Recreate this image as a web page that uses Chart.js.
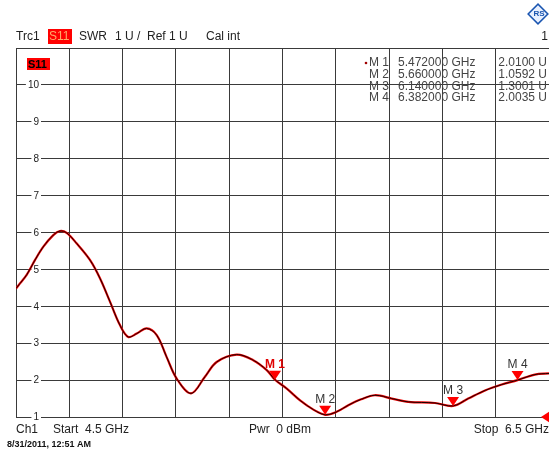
<!DOCTYPE html>
<html><head><meta charset="utf-8">
<script src="https://cdn.jsdelivr.net/npm/chart.js@4"></script>
<style>html,body{margin:0;padding:0;background:#fff;}canvas{display:block}</style>
</head><body>
<canvas id="c" width="549" height="455"></canvas>
<script>
// ---- data ----
const freqGHz = [4.500,4.515,4.540,4.571,4.602,4.640,4.665,4.690,4.728,4.778,4.815,4.853,4.890,4.921,4.953,4.990,5.028,5.065,5.103,5.157,5.209,5.253,5.328,5.390,5.441,5.472,5.516,5.566,5.616,5.660,5.703,5.747,5.795,5.847,5.910,5.972,6.072,6.140,6.197,6.260,6.323,6.382,6.447,6.500];
const swr = [4.48,4.62,4.85,5.25,5.61,5.93,6.04,5.99,5.70,5.25,4.76,4.12,3.49,3.17,3.26,3.40,3.22,2.63,2.04,1.64,2.09,2.49,2.69,2.54,2.27,2.01,1.77,1.45,1.20,1.06,1.14,1.32,1.48,1.59,1.50,1.41,1.38,1.30,1.50,1.72,1.88,2.00,2.15,2.18];
const markerNames = ['M 1','M 2','M 3','M 4'];
const markerFreq = [5.472, 5.660, 6.140, 6.382];
const markerSwr = [2.0100, 1.0592, 1.3001, 2.0035];
const xTicks = [4.5,4.7,4.9,5.1,5.3,5.5,5.7,5.9,6.1,6.3,6.5];
const yTicks = [1,2,3,4,5,6,7,8,9,10,11];
const yLabels = [1,2,3,4,5,6,7,8,9,10];
const refLevel = 1;

const FONT = '"Liberation Sans", Arial, sans-serif';
const TXT = '#222';

const points = freqGHz.map((f,i)=>({x:f,y:swr[i]}));

const overlay = {
  id:'overlay',
  beforeDatasetsDraw(chart){
    const ctx = chart.ctx, ys = chart.scales.y;
    ctx.save();
    ctx.font = '10px '+FONT; ctx.textAlign='right'; ctx.textBaseline='middle';
    yLabels.forEach(v=>{
      const py = ys.getPixelForValue(v);
      const s = String(v), w = ctx.measureText(s).width;
      ctx.fillStyle='#fff'; ctx.fillRect(39-w-2, py-3, w+4, 6);
      ctx.fillStyle=TXT; ctx.fillText(s, 39, py+0.5);
    });
    ctx.restore();
  },
  afterDatasetsDraw(chart){
    const ctx = chart.ctx, xs = chart.scales.x, ys = chart.scales.y;
    ctx.save();
    markerFreq.forEach((f,i)=>{
      const px = xs.getPixelForValue(f), py = ys.getPixelForValue(markerSwr[i]);
      ctx.fillStyle='#ff0000';
      ctx.beginPath(); ctx.moveTo(px,py); ctx.lineTo(px-6,py-9); ctx.lineTo(px+6,py-9); ctx.closePath(); ctx.fill();
      ctx.textAlign='center'; ctx.textBaseline='alphabetic';
      if(i===0){ ctx.font='bold 12px '+FONT; ctx.fillStyle='#e00000'; }
      else { ctx.font='12px '+FONT; ctx.fillStyle='#333'; }
      ctx.fillText(markerNames[i], px, py-12);
    });
    // reference level arrow at right edge
    const ry = ys.getPixelForValue(refLevel);
    ctx.fillStyle='#ff0000';
    ctx.beginPath(); ctx.moveTo(541,ry); ctx.lineTo(550,ry-6); ctx.lineTo(550,ry+6); ctx.closePath(); ctx.fill();
    ctx.restore();
  },
  afterDraw(chart){
    const ctx = chart.ctx;
    ctx.save();
    ctx.textBaseline='middle'; ctx.textAlign='left';
    // header
    ctx.font='12px '+FONT; ctx.fillStyle=TXT;
    ctx.fillText('Trc1', 16, 36.5);
    ctx.fillStyle='#ff0000'; ctx.fillRect(48,29,24,15);
    ctx.fillStyle='#ffa868'; ctx.fillText('S11', 49, 36.5);
    ctx.fillStyle=TXT;
    ctx.fillText('SWR', 79, 36.5);
    ctx.fillText('1 U /', 115, 36.5);
    ctx.fillText('Ref 1 U', 147, 36.5);
    ctx.fillText('Cal int', 206, 36.5);
    ctx.textAlign='right'; ctx.fillText('1', 548, 36.5);
    // logo
    ctx.save(); ctx.translate(538,14); ctx.rotate(Math.PI/4);
    ctx.fillStyle='#e8f0ff'; ctx.strokeStyle='#1a55b0'; ctx.lineWidth=1.5;
    ctx.fillRect(-7,-7,14,14); ctx.strokeRect(-7,-7,14,14); ctx.restore();
    ctx.fillStyle='#1a55b0'; ctx.font='bold 8px '+FONT; ctx.textAlign='center';
    ctx.fillText('RS', 539, 14);
    // inner S11 label
    ctx.fillStyle='#ff0000'; ctx.fillRect(27,58,23,12);
    ctx.fillStyle='#000'; ctx.font='bold 11px '+FONT; ctx.textAlign='left';
    ctx.fillText('S11', 28, 64.5);
    // marker table
    ctx.font='12px '+FONT;
    markerNames.forEach((n,i)=>{
      const y = 63 + i*11.7;
      ctx.fillStyle='#444'; ctx.textAlign='left';
      ctx.fillText(n, 369, y);
      ctx.fillText(markerFreq[i].toFixed(6)+' GHz', 398, y);
      ctx.textAlign='right';
      ctx.fillText(markerSwr[i].toFixed(4)+' U', 547, y);
      if(i===0){ ctx.fillStyle='#a00000'; ctx.beginPath(); ctx.arc(366, y, 1.3, 0, Math.PI*2); ctx.fill(); }
    });
    // footer
    ctx.fillStyle=TXT; ctx.font='12px '+FONT; ctx.textAlign='left';
    ctx.fillText('Ch1', 16, 430);
    ctx.fillText('Start  4.5 GHz', 53, 430);
    ctx.fillText('Pwr  0 dBm', 249, 430);
    ctx.textAlign='right';
    ctx.fillText('Stop  6.5 GHz', 549, 430);
    ctx.textAlign='left'; ctx.font='bold 9px '+FONT; ctx.fillStyle='#111';
    ctx.fillText('8/31/2011, 12:51 AM', 7, 445);
    ctx.restore();
  }
};

const gridCol = '#3a3a3a';
new Chart(document.getElementById('c'), {
  type:'line',
  data:{ datasets:[
    { data: points, borderColor:'#1a0000', borderWidth:1, pointRadius:0, tension:0.35, fill:false },
    { data: points, borderColor:'#ee0000', borderWidth:2.2, pointRadius:0, tension:0.35, fill:false }
  ]},
  options:{
    responsive:false, animation:false, devicePixelRatio:1,
    layout:{ padding:{ left:16, top:48, right:0, bottom:38 } },
    plugins:{ legend:{display:false}, tooltip:{enabled:false} },
    events:[],
    scales:{
      x:{ type:'linear', min:4.5, max:6.5,
        afterBuildTicks(s){ s.ticks = xTicks.map(v=>({value:v})); },
        afterFit(s){ s.height = 0; },
        ticks:{ display:false },
        grid:{ color:gridCol, lineWidth:1, drawTicks:false },
        border:{ display:true, color:gridCol }
      },
      y:{ type:'linear', min:1, max:11,
        afterBuildTicks(s){ s.ticks = yTicks.map(v=>({value:v})); },
        afterFit(s){ s.width = 0; },
        ticks:{ display:false },
        grid:{ color:gridCol, lineWidth:1, drawTicks:false },
        border:{ display:true, color:gridCol }
      }
    }
  },
  plugins:[overlay]
});
</script>
</body></html>
